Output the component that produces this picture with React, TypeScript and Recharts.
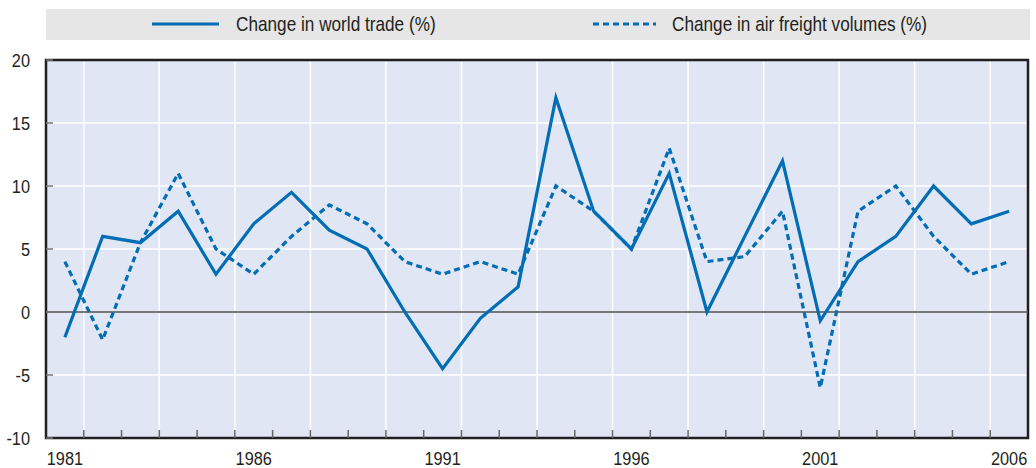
import React from 'react';
import {
  LineChart,
  Line,
  XAxis,
  YAxis,
  CartesianGrid,
  ReferenceLine,
  ReferenceArea,
  Legend,
} from 'recharts';

const years = [
  1981, 1982, 1983, 1984, 1985, 1986, 1987, 1988, 1989, 1990, 1991, 1992, 1993,
  1994, 1995, 1996, 1997, 1998, 1999, 2000, 2001, 2002, 2003, 2004, 2005, 2006,
];
const worldTrade = [
  -2, 6, 5.5, 8, 3, 7, 9.5, 6.5, 5, 0, -4.5, -0.5, 2, 17, 8, 5, 11, 0, 6, 12, -0.7, 4, 6, 10, 7, 8,
];
const airFreight = [
  4, -2.2, 5.5, 11, 5, 3, 6, 8.5, 7, 4, 3, 4, 3, 10, 8, 5, 13, 4, 4.4, 8, -6, 8, 10, 6, 3, 4,
];
const labelYears = [1981, 1986, 1991, 1996, 2001, 2006];
const yTicks = [-10, -5, 0, 5, 10, 15, 20];
const seriesNames = ['Change in world trade (%)', 'Change in air freight volumes (%)'];

const FONT = "'Liberation Sans', Arial, sans-serif";
const NARROW = 0.86;
const BLUE = '#006DB5';
const TEXT = '#231F20';

const data = years.map((year, i) => ({ year, worldTrade: worldTrade[i], airFreight: airFreight[i] }));
const boundaries = years.slice(0, -1).map((y) => y + 0.5);
const xMin = years[0] - 0.5;
const xMax = years[years.length - 1] + 0.5;
const mainTicks = [...boundaries, ...labelYears].sort((a, b) => a - b);

const XTick = (props: any) => {
  const { x, y, payload } = props;
  const v = payload.value;
  if (labelYears.includes(v)) {
    return (
      <text
        transform={`translate(${x},${y + 26.5}) scale(${NARROW},1)`}
        x={0}
        y={0}
        textAnchor="middle"
        fontSize={19}
        fill={TEXT}
        fontFamily={FONT}
      >
        {v}
      </text>
    );
  }
  return <line x1={x} x2={x} y1={y - 8} y2={y} stroke="#666" strokeWidth={1.5} />;
};

const YTick = (props: any) => {
  const { x, y, payload } = props;
  return (
    <g>
      <line x1={x} x2={x + 7} y1={y} y2={y} stroke="#777" strokeWidth={1.5} />
      <text
        transform={`translate(${x - 16},${y}) scale(${NARROW},1)`}
        x={0}
        y={0}
        dy="0.35em"
        textAnchor="end"
        fontSize={19}
        fill={TEXT}
        fontFamily={FONT}
      >
        {payload.value}
      </text>
    </g>
  );
};

const LegendContent = () => (
  <svg width={984} height={31} style={{ display: 'block' }}>
    <rect x={0} y={0} width={984} height={31} fill="#E6E6E6" />
    <line x1={106} x2={173} y1={15} y2={15} stroke={BLUE} strokeWidth={3} />
    <line x1={547} x2={610} y1={15} y2={15} stroke={BLUE} strokeWidth={3} strokeDasharray="6 4" />
    <text
      transform={`translate(190,22) scale(0.86,1)`}
      fontSize={20}
      fill={TEXT}
      fontFamily={FONT}
    >
      {seriesNames[0]}
    </text>
    <text
      transform={`translate(626,22) scale(0.86,1)`}
      fontSize={20}
      fill={TEXT}
      fontFamily={FONT}
    >
      {seriesNames[1]}
    </text>
  </svg>
);

export default function App() {
  return (
    <div style={{ position: 'absolute', left: 0, top: 0, width: 1036, height: 468, background: '#fff' }}>
      <LineChart
        width={1036}
        height={468}
        data={data}
        margin={{ top: 60, right: 8, bottom: 0, left: 0 }}
        style={{ fontFamily: FONT }}
      >
        <CartesianGrid
          xAxisId="grid"
          stroke="#FFFFFF"
          strokeWidth={1.5}
          fill="#E0E6F4"
          fillOpacity={1}
        />
        <XAxis
          xAxisId="grid"
          type="number"
          dataKey="year"
          domain={[xMin, xMax]}
          ticks={boundaries}
          hide
        />
        <XAxis
          type="number"
          dataKey="year"
          domain={[xMin, xMax]}
          ticks={mainTicks}
          interval={0}
          height={30}
          axisLine={false}
          tickLine={false}
          tickSize={0}
          tickMargin={0}
          tick={<XTick />}
        />
        <YAxis
          type="number"
          domain={[-10, 20]}
          ticks={yTicks}
          interval={0}
          width={46}
          axisLine={false}
          tickLine={false}
          tickSize={0}
          tickMargin={0}
          tick={<YTick />}
        />
        <ReferenceLine y={0} stroke="#4D4D4D" strokeWidth={1.5} />
        <ReferenceArea
          x1={xMin}
          x2={xMax}
          y1={-10}
          y2={20}
          fill="none"
          stroke="#231F20"
          strokeWidth={2.5}
        />
        <Legend
          layout="vertical"
          align="center"
          verticalAlign="middle"
          content={<LegendContent />}
          wrapperStyle={{ position: 'absolute', left: 46, top: 9, width: 984, height: 31 }}
        />
        <Line
          type="linear"
          dataKey="airFreight"
          name={seriesNames[1]}
          stroke={BLUE}
          strokeWidth={3.2}
          strokeDasharray="6 4"
          dot={false}
          activeDot={false}
          isAnimationActive={false}
        />
        <Line
          type="linear"
          dataKey="worldTrade"
          name={seriesNames[0]}
          stroke={BLUE}
          strokeWidth={3.2}
          dot={false}
          activeDot={false}
          isAnimationActive={false}
        />
      </LineChart>
    </div>
  );
}
